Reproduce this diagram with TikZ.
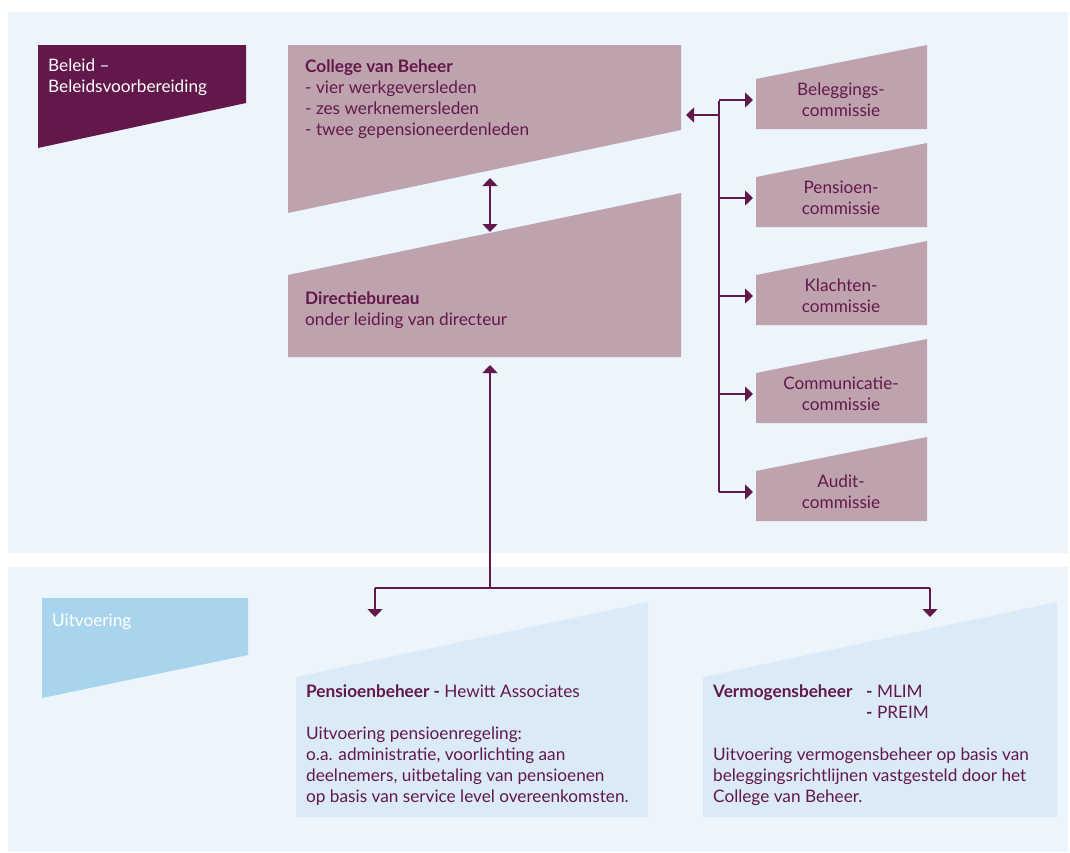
\documentclass[tikz,border=0pt]{standalone}
\usepackage{fontspec}
\setmainfont{Lato}
\usetikzlibrary{arrows.meta}

\definecolor{panelblue}{RGB}{236,244,252}
\definecolor{plum}{RGB}{98,24,75}
\definecolor{mauve}{RGB}{190,163,174}
\definecolor{skyblue}{RGB}{168,212,238}
\definecolor{paleblue}{RGB}{219,234,247}

\begin{document}
\begin{tikzpicture}[x=1pt,y=-1pt,
% colour of the slanted boxes
boxcolor/.store in=\boxcol, boxcolor=mauve,
shapebox/.style={rectangle, inner sep=0pt, outer sep=0pt, anchor=north west},
% top edge drops to the left by #1
dropleft/.style={shapebox,
	path picture={\path[fill=\boxcol] ([yshift=-#1 pt]path picture bounding box.north west)
		-- (path picture bounding box.north east) -- (path picture bounding box.south east)
		-- (path picture bounding box.south west) -- cycle;}},
% bottom edge rises to the right by #1
riseright/.style={shapebox,
	path picture={\path[fill=\boxcol] (path picture bounding box.north west)
		-- (path picture bounding box.north east) -- ([yshift=#1 pt]path picture bounding box.south east)
		-- (path picture bounding box.south west) -- cycle;}},
panel/.style={shapebox, fill=panelblue},
% Text (placed at the baseline of its last line)
boxtext/.style={anchor=base west, align=left, inner sep=0pt, text=plum,
	font=\fontsize{17.2}{21}\selectfont},
commtext/.style={boxtext, anchor=center, align=center},
whitetext/.style={boxtext, text=white},
% Connectors
link/.style={draw=plum, line width=1.4pt},
tip/.style={-{Triangle[width=15pt,length=8pt]}},
bitip/.style={{Triangle[width=15pt,length=8pt]}-{Triangle[width=15pt,length=8pt]}}]

\useasboundingbox[fill=white] (0,0) rectangle (1070,852);

%Panels
\node (beleidpanel) [panel, minimum width=1060pt, minimum height=541pt] at (8,12) {};
\node (uitvpanel) [panel, minimum width=1060pt, minimum height=285pt] at (8,567) {};

%Headings
\node (beleid) [riseright=45, boxcolor=plum, minimum width=208pt, minimum height=103pt] at (38,45) {};
\node (beleidtxt) [whitetext] at (48,92) {Beleid --\\Beleidsvoorbereiding};
\node (uitv) [riseright=43, boxcolor=skyblue, minimum width=206pt, minimum height=100pt] at (42,598) {};
\node (uitvtxt) [whitetext] at (52,626) {Uitvoering};

%Main boxes
\node (college) [riseright=83, minimum width=393pt, minimum height=168pt] at (288,45) {};
\node (collegetxt) [boxtext] at (305,135) {\textbf{College van Beheer}\\
	- vier werkgeversleden\\
	- zes werknemersleden\\
	- twee gepensioneerdenleden};
\node (directie) [dropleft=82, minimum width=393pt, minimum height=164pt] at (288,193) {};
\node (directietxt) [boxtext] at (305,325) {\textbf{Directiebureau}\\
	onder leiding van directeur};

%Commissions
\node (beleg) [dropleft=34, minimum width=171pt, minimum height=84pt] at (756,45) {};
\node (belegtxt) [commtext] at (841,100) {Beleggings-\\commissie};
\node (pens) [dropleft=34, minimum width=171pt, minimum height=84pt] at (756,143) {};
\node (penstxt) [commtext] at (841,198) {Pensioen-\\commissie};
\node (klacht) [dropleft=34, minimum width=171pt, minimum height=84pt] at (756,241) {};
\node (klachttxt) [commtext] at (841,296) {Klachten-\\commissie};
\node (comm) [dropleft=34, minimum width=171pt, minimum height=84pt] at (756,339) {};
\node (commtxt) [commtext] at (841,394) {Communicatie-\\commissie};
\node (audit) [dropleft=34, minimum width=171pt, minimum height=84pt] at (756,437) {};
\node (audittxt) [commtext] at (841,492) {Audit-\\commissie};

%Execution boxes
\node (pensbeh) [dropleft=75, boxcolor=paleblue, minimum width=352pt, minimum height=215pt] at (296,602) {};
\node (pensbehtxt) [boxtext] at (306,802) {\textbf{Pensioenbeheer -} Hewitt Associates\\[21pt]
	Uitvoering pensioenregeling:\\
	o.a. administratie, voorlichting aan\\
	deelnemers, uitbetaling van pensioenen\\
	op basis van service level overeenkomsten.};
\node (vermbeh) [dropleft=75, boxcolor=paleblue, minimum width=354pt, minimum height=215pt] at (703,602) {};
\node (vermtitle) [boxtext] at (713,697) {\textbf{Vermogensbeheer}};
\node (vermlist) [boxtext] at (866,718) {\textbf{-} MLIM\\\textbf{-} PREIM};
\node (vermtxt) [boxtext] at (713,802) {Uitvoering vermogensbeheer op basis van\\
	beleggingsrichtlijnen vastgesteld door het\\
	College van Beheer.};

% Connectors
\coordinate (cvbend) at (490,178);
\coordinate (dbend) at (490,232);
\draw[link,bitip] (cvbend) -- (dbend);

\coordinate (spinetop) at (719,101);
\coordinate (spinemid) at (719,115);
\draw[link] (spinetop) -- (spinetop |- audittxt);
\draw[link,tip,shorten >=5pt] (spinemid) -- (college.east |- spinemid);
\draw[link,tip,shorten >=3pt] (spinetop |- belegtxt) -- (beleg.west |- belegtxt);
\draw[link,tip,shorten >=3pt] (spinetop |- penstxt) -- (pens.west |- penstxt);
\draw[link,tip,shorten >=3pt] (spinetop |- klachttxt) -- (klacht.west |- klachttxt);
\draw[link,tip,shorten >=3pt] (spinetop |- commtxt) -- (comm.west |- commtxt);
\draw[link,tip,shorten >=3pt] (spinetop |- audittxt) -- (audit.west |- audittxt);

\coordinate (fork) at (490,588);
\coordinate (forkleft) at (375,588);
\coordinate (forkright) at (930,588);
\coordinate (pensend) at (375,617);
\coordinate (vermend) at (930,617);
\draw[link,tip,shorten >=8pt] (fork) -- (fork |- directie.south);
\draw[link] (forkleft) -- (forkright);
\draw[link,tip] (forkleft) -- (pensend);
\draw[link,tip] (forkright) -- (vermend);

\end{tikzpicture}
\end{document}
